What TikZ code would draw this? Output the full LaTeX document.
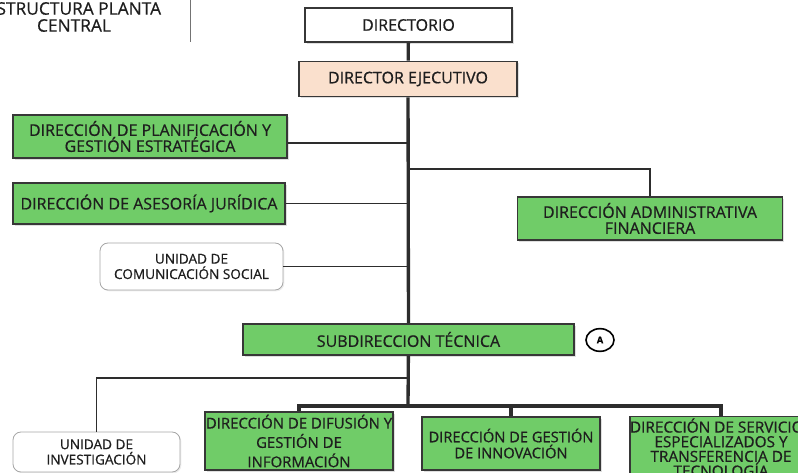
\documentclass[tikz,border=0pt]{standalone}
\usepackage{fontspec}
\setmainfont{Open Sans}[FakeBold=0.6]
\usepackage{tikz}
\usetikzlibrary{positioning,calc,shadows,shapes.geometric}

\definecolor{boxgreen}{RGB}{112,204,104}
\definecolor{boxpeach}{RGB}{250,224,205}
\definecolor{edgegray}{RGB}{55,55,55}
\definecolor{linkgray}{RGB}{45,45,45}
\definecolor{txtgray}{RGB}{30,30,30}

\tikzset{
    orgbox/.style={draw=edgegray,line width=1.4pt,align=center,inner sep=0pt,
        text=txtgray,font=\fontsize{12}{12}\selectfont,
        drop shadow={shadow xshift=1.2pt,shadow yshift=-1.2pt,opacity=0.25}},
    greenbox/.style={orgbox,fill=boxgreen},
    whitebox/.style={orgbox,fill=white},
    peachbox/.style={orgbox,fill=boxpeach},
    unitbox/.style={draw=black!35,line width=0.6pt,rounded corners=6pt,fill=white,
        align=center,inner sep=0pt,text=txtgray,font=\fontsize{10.2}{11.5}\selectfont,
        drop shadow={shadow xshift=1pt,shadow yshift=-1pt,opacity=0.15}},
    link/.style={draw=linkgray,line width=2.5pt},
    thinlink/.style={draw=linkgray,line width=1.3pt}
}

\begin{document}
\begin{tikzpicture}[x=0.75pt,y=-0.75pt]
        \useasboundingbox (0,0) rectangle (798,473);

        % Title
        \node[align=center,inner sep=0pt,text=txtgray,font=\fontsize{13}{12.75}\selectfont] (title) at (74,17) {ESTRUCTURA PLANTA\\CENTRAL};
        \draw[black!55,line width=0.6pt] (190,0) -- (190,42);

        % Top of the chart
        \node[whitebox,minimum width=155.25pt,minimum height=25.5pt] (directorio) at (408.5,25) {DIRECTORIO};
        \node[peachbox,minimum width=163.5pt,minimum height=26.25pt] (ejecutivo) at (408,79) {DIRECTOR EJECUTIVO};

        % Staff directions
        \node[greenbox,minimum width=205.5pt,minimum height=32.25pt] (planif) at (150,136.5) {DIRECCIÓN DE PLANIFICACIÓN Y\\GESTIÓN ESTRATÉGICA};
        \node[greenbox,minimum width=204pt,minimum height=30.75pt] (juridica) at (149,203.5) {DIRECCIÓN DE ASESORÍA JURÍDICA};
        \node[greenbox,minimum width=198.75pt,minimum height=32.25pt] (admfin) at (650,218.5) {DIRECCIÓN ADMINISTRATIVA\\FINANCIERA};
        \node[unitbox,minimum width=137.25pt,minimum height=35.25pt] (comunic) at (191.5,266.5) {UNIDAD DE\\COMUNICACIÓN SOCIAL};

        % Technical branch
        \node[greenbox,minimum width=248.25pt,minimum height=23.25pt] (subdir) at (408.5,339.5) {SUBDIRECCION TÉCNICA};
        \node[ellipse,draw=black,line width=1.2pt,minimum width=21pt,minimum height=17pt,inner sep=0pt,font=\bfseries\fontsize{7}{7}\selectfont] (markA) at (600,340) {A};

        % Bottom row
        \node[unitbox,minimum width=125.25pt,minimum height=30pt] (investig) at (96.5,452) {UNIDAD DE\\INVESTIGACIÓN};
        \node[greenbox,minimum width=141pt,minimum height=43.5pt,font=\fontsize{11.2}{14.5}\selectfont] (difusion) at (299,441) {DIRECCIÓN DE DIFUSIÓN Y\\GESTIÓN DE\\INFORMACIÓN};
        \node[greenbox,minimum width=133.5pt,minimum height=39.75pt,font=\fontsize{11}{12}\selectfont] (innovac) at (511,443.5) {DIRECCIÓN DE GESTIÓN\\DE INNOVACIÓN};
        \node[greenbox,minimum width=136.5pt,minimum height=46.5pt,font=\fontsize{11.5}{11}\selectfont] (servic) at (721,447.5) {DIRECCIÓN DE SERVICIOS\\ESPECIALIZADOS Y\\TRANSFERENCIA DE\\TECNOLOGÍA};

        % Branch points on the trunk
        \coordinate (badm) at (408,169);
        \coordinate (binv) at (408,378);
        \coordinate (bus) at (408,406);

        % Main trunk
        \draw[link] (directorio) -- (ejecutivo);
        \draw[link] (ejecutivo) -- (subdir);
        \draw[link] (subdir) -- (bus);

        % Side branches
        \draw[thinlink] ([yshift=-5pt]planif.east) -- ([yshift=-5pt]planif.east -| ejecutivo.south);
        \draw[thinlink] (juridica.east) -- (juridica.east -| ejecutivo.south);
        \draw[thinlink] (comunic.east) -- (comunic.east -| ejecutivo.south);
        \draw[link,line width=2pt] (badm) -| (admfin.north);
        \draw[thinlink] (binv) -| (investig.north);

        % Bus to the lower directions
        \draw[link] (bus) -| (difusion.north);
        \draw[link] (bus) -| (servic.north);
        \draw[link] (innovac.north) -- (innovac.north |- bus);
    \end{tikzpicture}
\end{document}
